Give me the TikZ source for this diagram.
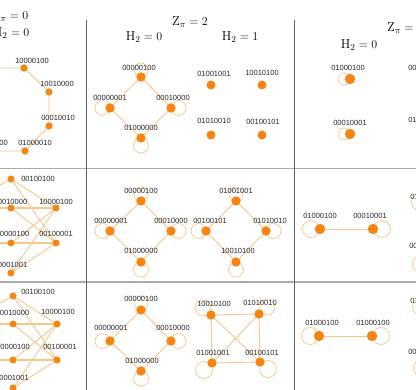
\documentclass[tikz,border=0pt]{standalone}
\usepackage{fontspec}
\newfontfamily\labfont{Liberation Sans}
\definecolor{nodeor}{RGB}{246,132,14}
\definecolor{edgeor}{RGB}{246,198,138}
\definecolor{loopor}{RGB}{246,204,150}
\newcommand\selfloop[4]{\draw[lp] ([shift={(#2,#3)}]#1.center) circle[radius=#4];}
\begin{document}
\begin{tikzpicture}[x=1pt,y=-1pt,
  vtx/.style={circle,fill=nodeor,draw=none,inner sep=0pt,minimum size=#1},
  vtx/.default=9pt,
  lab/.style={font=\labfont\fontsize{7.5}{8}\selectfont,inner sep=0pt,text=black!85},
  edg/.style={draw=edgeor,line width=0.9pt},
  edgt/.style={draw=edgeor,line width=1.4pt},
  lp/.style={draw=loopor,line width=0.8pt},
  ttl/.style={font=\fontsize{13}{15}\selectfont,inner sep=0pt},
  hrule/.style={draw=black!33,line width=1.5pt},
  vrule/.style={draw=black!62,line width=0.9pt}]
\useasboundingbox (0,0) rectangle (416,390);
\fill[white] (0,0) rectangle (416,390);
\clip (0,0) rectangle (416,390);

% ---------- grid ----------
\coordinate (v1t) at (86,20);  \coordinate (v1b) at (86,392);
\coordinate (v2t) at (294,20); \coordinate (v2b) at (294,392);
\coordinate (h1l) at (-2,168.5); \coordinate (h1r) at (418,168.5);
\coordinate (h2l) at (-2,282); \coordinate (h2r) at (418,282);
\draw[hrule] (h1l) -- (h1r);
\draw[hrule] (h2l) -- (h2r);
\draw[vrule] (v1t) -- (v1b);
\draw[vrule] (v2t) -- (v2b);

% ---------- titles ----------
\node[ttl,anchor=east] (t1) at (28.5,16) {$\mathrm{Z}_\pi = 0$};
\node[ttl,anchor=east] (t2) at (29.5,33) {$\mathrm{H}_2 = 0$};
\node[ttl] (t3) at (190,22) {$\mathrm{Z}_\pi = 2$};
\node[ttl] (t4) at (144,37) {$\mathrm{H}_2 = 0$};
\node[ttl] (t5) at (240,37) {$\mathrm{H}_2 = 1$};
\node[ttl,anchor=west] (t6) at (387,28) {$\mathrm{Z}_\pi = 4$};
\node[ttl] (t7) at (359,45) {$\mathrm{H}_2 = 0$};

% ---------- row 1, col 1 ----------
\node[vtx=7pt] (a1) at (24,68) {};
\node[vtx=7pt] (a2) at (49,92) {};
\node[vtx=7pt] (a3) at (49,126) {};
\node[vtx=7pt] (a4) at (25,151) {};
\node[vtx=7pt] (a5) at (-19,151) {};
\coordinate (a0) at (-40,68);
\draw[edg] (a0) -- (a1) (a1) -- (a2) (a2) -- (a3) (a3) -- (a4) (a4) -- (a5);
\node[vtx=7pt] at (a1) {};
\node[vtx=7pt] at (a2) {};
\node[vtx=7pt] at (a3) {};
\node[vtx=7pt] at (a4) {};
\node[lab] (la1) at (32,61) {10000100};
\node[lab] (la2) at (57,84) {10010000};
\node[lab] (la3) at (58,118) {00010010};
\node[lab] (la4) at (35,143) {01000010};
\node[lab] (la5) at (-9,143) {01001000};

% ---------- row 2, col 1 ----------
\coordinate (b1) at (11,179);
\coordinate (b2) at (11,208);
\coordinate (b3) at (56,208);
\coordinate (b4) at (11,243);
\coordinate (b5) at (56,243);
\coordinate (b6) at (11,273);
\coordinate (b0a) at (-33,203);
\coordinate (b0b) at (-40,208);
\coordinate (b0c) at (-40,243);
\draw[edg] (b0a) -- (b1) (b1) -- (b3) (b1) -- (b5) (b2) -- (b5)
  (b4) -- (b3) (b6) -- (b3) (b6) -- (b5);
\draw[edgt] (b0b) -- (b2) -- (b3) (b0c) -- (b4) -- (b5);
\foreach \n in {b1,b2,b3,b4,b5,b6} \node[vtx=7pt] (n\n) at (\n) {};
\node[lab] (lb1) at (38,179) {00100100};
\node[lab] (lb2) at (10.5,201.5) {10010000};
\node[lab] (lb3) at (56,201.5) {10000100};
\node[lab] (lb4) at (12.5,234) {00000100};
\node[lab] (lb5) at (56,233.5) {00100001};
\node[lab] (lb6) at (10.5,265) {00001001};

% ---------- row 3, col 1 ----------
\coordinate (c1) at (13,296);
\coordinate (c2) at (13,324);
\coordinate (c3) at (57,324);
\coordinate (c4) at (13,360);
\coordinate (c5) at (57,360);
\coordinate (c6) at (13,388);
\coordinate (c0a) at (-31,320);
\coordinate (c0b) at (-40,324);
\coordinate (c0c) at (-40,360);
\draw[edg] (c0a) -- (c1) (c1) -- (c3) (c1) -- (c5) (c2) -- (c5)
  (c4) -- (c3) (c6) -- (c3) (c6) -- (c5);
\draw[edgt] (c0b) -- (c2) -- (c3) (c0c) -- (c4) -- (c5);
\foreach \n in {c1,c2,c3,c4,c5,c6} \node[vtx=7pt] (n\n) at (\n) {};
\node[lab] (lc1) at (38,292) {00100100};
\node[lab] (lc2) at (12.5,313) {10010000};
\node[lab] (lc3) at (58,312) {10000100};
\node[lab] (lc4) at (13,347) {00000100};
\node[lab] (lc5) at (60,347) {00100001};
\node[lab] (lc6) at (12,378) {00001001};

% ---------- row 1, col 2 ----------
\node[vtx] (d1) at (141,77) {};
\node[vtx] (d2) at (110,108) {};
\node[vtx] (d3) at (171,108) {};
\node[vtx] (d4) at (141,138) {};
\draw[edg] (d1) -- (d2) (d1) -- (d3) (d2) -- (d4) (d3) -- (d4);
\selfloop{d1}{0}{-7}{7}
\selfloop{d2}{-7.5}{0}{7.5}
\selfloop{d3}{7.5}{0}{7.5}
\selfloop{d4}{0}{7.5}{7.5}
\foreach \n in {d1,d2,d3,d4} \node[vtx] at (\n) {};
\node[lab] (ld1) at (139,68) {00000100};
\node[lab] (ld2) at (110,98) {00000001};
\node[lab] (ld3) at (173,98) {00010000};
\node[lab] (ld4) at (141,128) {01000000};

\node[vtx] (e1) at (211,85) {};
\node[vtx] (e2) at (262,85) {};
\node[vtx] (e3) at (211,135) {};
\node[vtx] (e4) at (262,135) {};
\node[lab] (le1) at (214,74) {01001001};
\node[lab] (le2) at (262,73) {10010100};
\node[lab] (le3) at (214,121) {01010010};
\node[lab] (le4) at (263,122) {00100101};

% ---------- row 1, col 3 ----------
\node[vtx=10pt] (f1) at (350,79) {};
\node[vtx=10pt] (f2) at (350,134) {};
\selfloop{f1}{-6}{0}{6}
\selfloop{f2}{-6}{0}{6}
\node[vtx=10pt] at (f1) {};
\node[vtx=10pt] at (f2) {};
\node[lab] (lf1) at (348,68) {01000100};
\node[lab] (lf2) at (350,123) {00010001};
\node[lab] (lf3) at (425,68) {00100010};
\node[lab] (lf4) at (425,120) {01000001};

% ---------- row 2, col 2 ----------
\node[vtx] (g1) at (141,201) {};
\node[vtx] (g2) at (110,231) {};
\node[vtx] (g3) at (171,231) {};
\node[vtx] (g4) at (141,262) {};
\draw[edg] (g1) -- (g2) (g1) -- (g3) (g2) -- (g4) (g3) -- (g4);
\selfloop{g1}{0}{-7}{7}
\selfloop{g2}{-7.5}{0}{7.5}
\selfloop{g3}{7.5}{0}{7.5}
\selfloop{g4}{0}{7.5}{7.5}
\foreach \n in {g1,g2,g3,g4} \node[vtx] at (\n) {};
\node[lab] (lg1) at (141,191) {00000100};
\node[lab] (lg2) at (111,221) {00000001};
\node[lab] (lg3) at (171,221) {00010000};
\node[lab] (lg4) at (141,251) {01000000};

\node[vtx] (h1) at (236,201) {};
\node[vtx] (h2) at (206,231) {};
\node[vtx] (h3) at (266,231) {};
\node[vtx] (h4) at (236,262) {};
\draw[edg] (h1) -- (h2) (h1) -- (h3) (h2) -- (h4) (h3) -- (h4);
\selfloop{h1}{0}{-7}{7}
\selfloop{h2}{-7.5}{0}{7.5}
\selfloop{h3}{7.5}{0}{7.5}
\selfloop{h4}{0}{7.5}{7.5}
\foreach \n in {h1,h2,h3,h4} \node[vtx] at (\n) {};
\node[lab] (lh1) at (236,191) {01001001};
\node[lab] (lh2) at (210,221) {00100101};
\node[lab] (lh3) at (270,221) {01010010};
\node[lab] (lh4) at (238,251) {10010100};

% ---------- row 2, col 3 ----------
\node[vtx=10pt] (i1) at (320,229) {};
\node[vtx=10pt] (i2) at (373,229) {};
\draw[edg] (i1) -- (i2);
\selfloop{i1}{-9}{0}{8.5}
\selfloop{i2}{9}{0}{8.5}
\node[vtx=10pt] at (i1) {};
\node[vtx=10pt] at (i2) {};
\node[lab] (li1) at (320,216) {01000100};
\node[lab] (li2) at (370,216) {00010001};
% partial column 4
\node[vtx=10pt] (i3) at (428,210) {};
\node[vtx=10pt] (i4) at (429,271) {};
\selfloop{i3}{-8}{-8}{8.5}
\selfloop{i4}{-8}{-7}{8.5}
\node[vtx=10pt] at (i3) {};
\node[vtx=10pt] at (i4) {};
\node[lab] (li3) at (427,197) {01001001};
\node[lab] (li4) at (426,246) {00100101};

% ---------- row 3, col 2 ----------
\node[vtx] (j1) at (141,310) {};
\node[vtx] (j2) at (110,341) {};
\node[vtx] (j3) at (171,341) {};
\node[vtx] (j4) at (141,371) {};
\draw[edg] (j1) -- (j2) (j1) -- (j3) (j2) -- (j4) (j3) -- (j4);
\selfloop{j1}{0}{-7}{7}
\selfloop{j2}{-7.5}{0}{7.5}
\selfloop{j3}{7.5}{0}{7.5}
\selfloop{j4}{0}{7.5}{7.5}
\foreach \n in {j1,j2,j3,j4} \node[vtx] at (\n) {};
\node[lab] (lj1) at (141,299) {00000100};
\node[lab] (lj2) at (111,328) {00000001};
\node[lab] (lj3) at (173,328) {00010000};
\node[lab] (lj4) at (142,361) {01000000};

\node[vtx] (k1) at (211,315) {};
\node[vtx] (k2) at (259,314) {};
\node[vtx] (k3) at (212,363) {};
\node[vtx] (k4) at (260,362) {};
\draw[edg] (k1) -- (k2) (k3) -- (k4) (k1) -- (k3) (k2) -- (k4) (k1) -- (k4) (k2) -- (k3);
\selfloop{k1}{-8}{-7}{8}
\selfloop{k2}{8}{-7}{8}
\selfloop{k3}{-8}{7}{8.5}
\selfloop{k4}{8}{7}{8.5}
\foreach \n in {k1,k2,k3,k4} \node[vtx] at (\n) {};
\node[lab] (lk1) at (214,304) {10010100};
\node[lab] (lk2) at (260,303) {01010010};
\node[lab] (lk3) at (213,353) {01001001};
\node[lab] (lk4) at (262,353) {00100101};

% ---------- row 3, col 3 ----------
\node[vtx=10pt] (m1) at (319,336) {};
\node[vtx=10pt] (m2) at (372,336) {};
\draw[edg] (m1) -- (m2);
\selfloop{m1}{-9}{0}{8.5}
\selfloop{m2}{9}{0}{8.5}
\node[vtx=10pt] at (m1) {};
\node[vtx=10pt] at (m2) {};
\node[lab] (lm1) at (322,323) {01000100};
\node[lab] (lm2) at (373,323) {01000100};
% partial column 4
\node[vtx=10pt] (m3) at (429,315) {};
\node[vtx=10pt] (m4) at (430,376) {};
\selfloop{m3}{-8}{-8}{8.5}
\selfloop{m4}{-8}{-8}{8.5}
\node[vtx=10pt] at (m3) {};
\node[vtx=10pt] at (m4) {};
\node[lab] (lm3) at (427,301) {01001001};
\node[lab] (lm4) at (425,352) {00100101};
\end{tikzpicture}
\end{document}
